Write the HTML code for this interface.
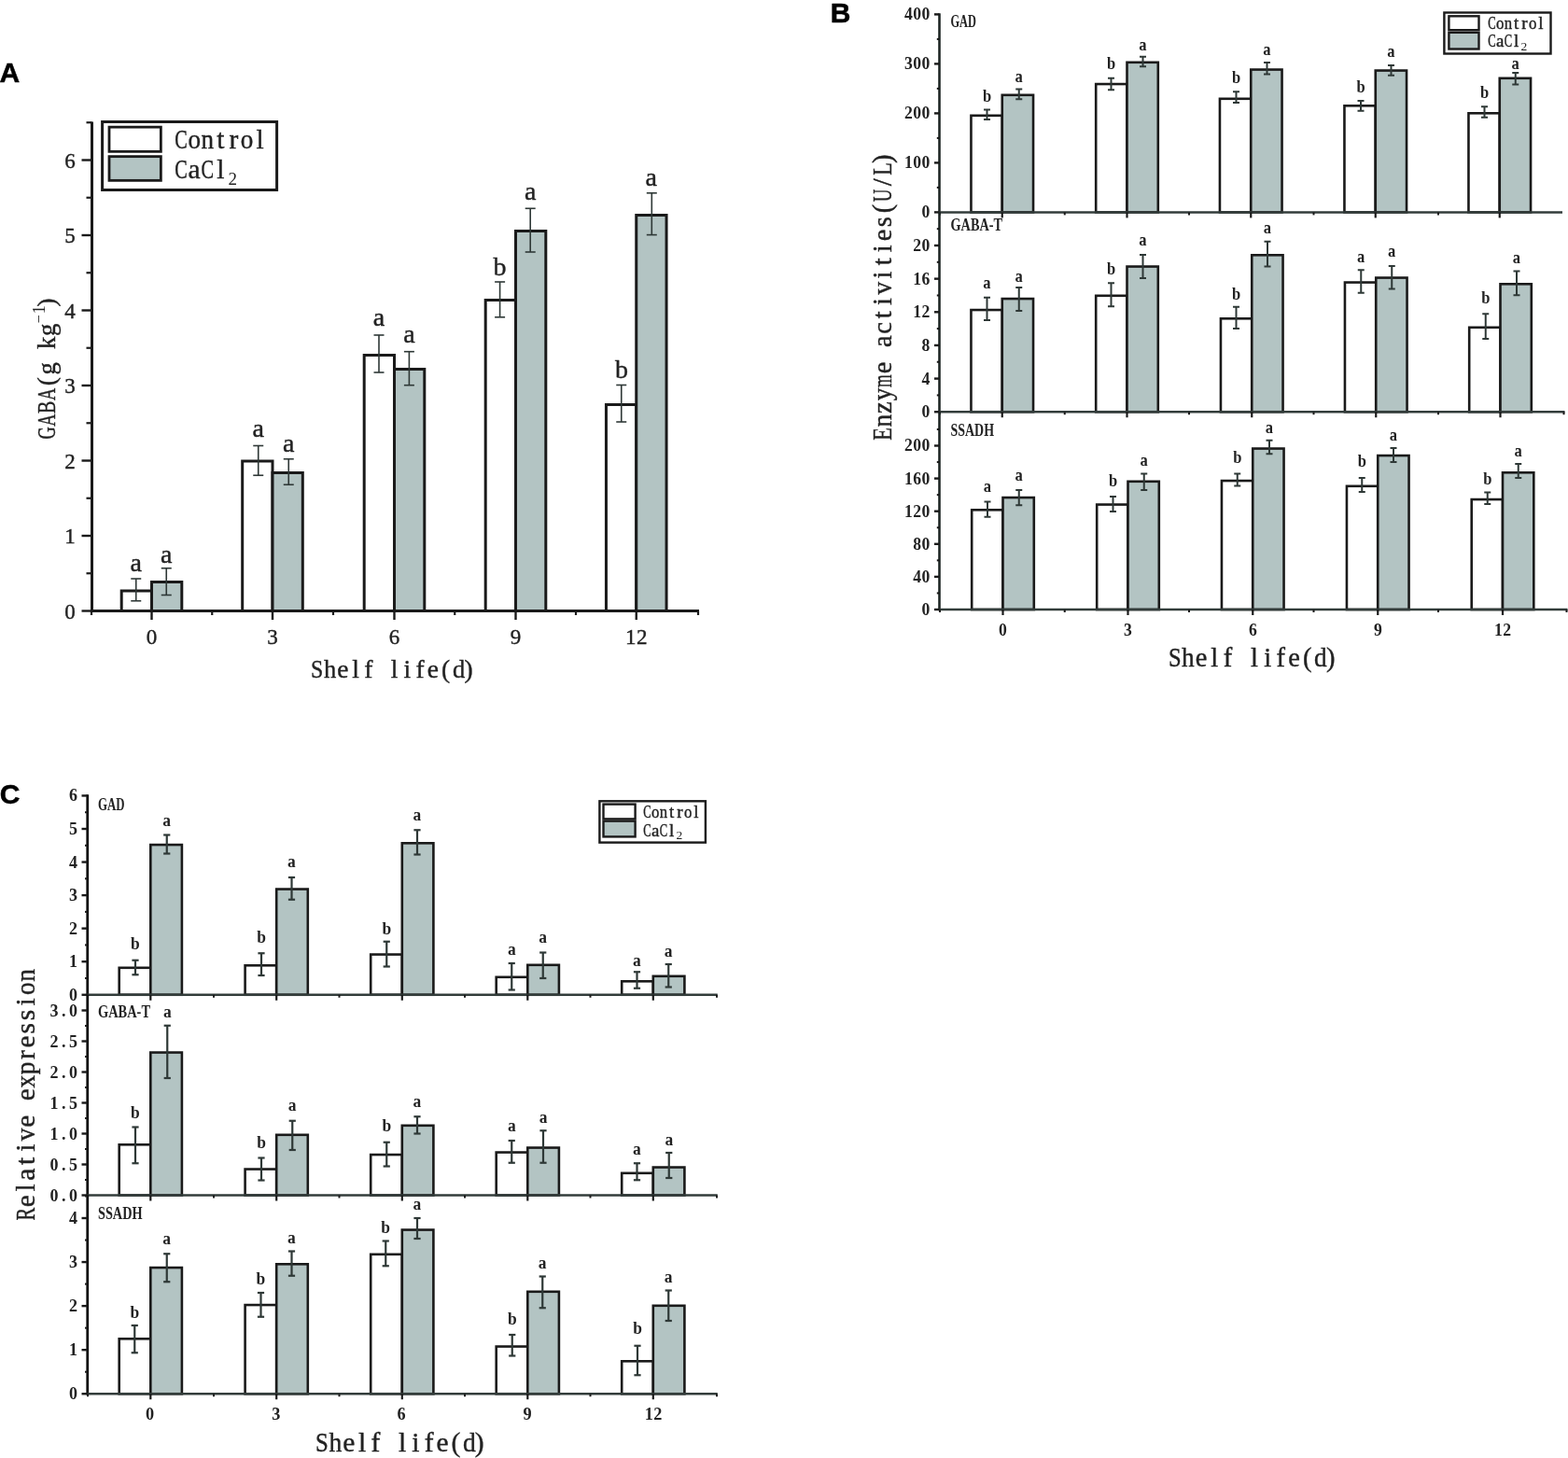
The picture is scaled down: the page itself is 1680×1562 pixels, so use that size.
<!DOCTYPE html>
<html><head><meta charset="utf-8"><title>GABA figure</title>
<style>
html,body{margin:0;padding:0;background:#fff;}
svg{display:block;}
text{font-family:"Liberation Serif","Noto Serif CJK SC",serif;}
text.r{stroke:#222;stroke-width:0.4px;}
</style></head><body>
<svg width="1680" height="1562" viewBox="0 0 1680 1562">
<rect x="0" y="0" width="1680" height="1562" fill="#fff"/>
<rect x="130.2" y="633" width="32.3" height="21.5" fill="#fff" stroke="#1a1a1a" stroke-width="3"/>
<rect x="162.5" y="623.5" width="32.3" height="31" fill="#b3c4c3" stroke="#1a1a1a" stroke-width="3"/>
<rect x="259.7" y="494" width="32.3" height="160.5" fill="#fff" stroke="#1a1a1a" stroke-width="3"/>
<rect x="292" y="506.5" width="32.3" height="148" fill="#b3c4c3" stroke="#1a1a1a" stroke-width="3"/>
<rect x="390.2" y="380.5" width="32.3" height="274" fill="#fff" stroke="#1a1a1a" stroke-width="3"/>
<rect x="422.5" y="395.5" width="32.3" height="259" fill="#b3c4c3" stroke="#1a1a1a" stroke-width="3"/>
<rect x="520.2" y="321.5" width="32.3" height="333" fill="#fff" stroke="#1a1a1a" stroke-width="3"/>
<rect x="552.5" y="247.5" width="32.3" height="407" fill="#b3c4c3" stroke="#1a1a1a" stroke-width="3"/>
<rect x="649.45" y="433.5" width="32.3" height="221" fill="#fff" stroke="#1a1a1a" stroke-width="3"/>
<rect x="681.75" y="230.5" width="32.3" height="424" fill="#b3c4c3" stroke="#1a1a1a" stroke-width="3"/>
<line x1="145.75" y1="620" x2="145.75" y2="643.75" stroke="#2e3836" stroke-width="1.6"/>
<line x1="140.25" y1="620" x2="151.25" y2="620" stroke="#2e3836" stroke-width="1.6"/>
<line x1="140.25" y1="643.75" x2="151.25" y2="643.75" stroke="#2e3836" stroke-width="1.6"/>
<line x1="276.75" y1="477.5" x2="276.75" y2="509.25" stroke="#2e3836" stroke-width="1.6"/>
<line x1="271.25" y1="477.5" x2="282.25" y2="477.5" stroke="#2e3836" stroke-width="1.6"/>
<line x1="271.25" y1="509.25" x2="282.25" y2="509.25" stroke="#2e3836" stroke-width="1.6"/>
<line x1="406" y1="359" x2="406" y2="399" stroke="#2e3836" stroke-width="1.6"/>
<line x1="400.5" y1="359" x2="411.5" y2="359" stroke="#2e3836" stroke-width="1.6"/>
<line x1="400.5" y1="399" x2="411.5" y2="399" stroke="#2e3836" stroke-width="1.6"/>
<line x1="535.6" y1="302" x2="535.6" y2="339.8" stroke="#2e3836" stroke-width="1.6"/>
<line x1="530.1" y1="302" x2="541.1" y2="302" stroke="#2e3836" stroke-width="1.6"/>
<line x1="530.1" y1="339.8" x2="541.1" y2="339.8" stroke="#2e3836" stroke-width="1.6"/>
<line x1="665.75" y1="412.5" x2="665.75" y2="452" stroke="#2e3836" stroke-width="1.6"/>
<line x1="660.25" y1="412.5" x2="671.25" y2="412.5" stroke="#2e3836" stroke-width="1.6"/>
<line x1="660.25" y1="452" x2="671.25" y2="452" stroke="#2e3836" stroke-width="1.6"/>
<line x1="178.25" y1="608.75" x2="178.25" y2="637.5" stroke="#2e3836" stroke-width="1.6"/>
<line x1="172.75" y1="608.75" x2="183.75" y2="608.75" stroke="#2e3836" stroke-width="1.6"/>
<line x1="172.75" y1="637.5" x2="183.75" y2="637.5" stroke="#2e3836" stroke-width="1.6"/>
<line x1="309.25" y1="491.75" x2="309.25" y2="519.25" stroke="#2e3836" stroke-width="1.6"/>
<line x1="303.75" y1="491.75" x2="314.75" y2="491.75" stroke="#2e3836" stroke-width="1.6"/>
<line x1="303.75" y1="519.25" x2="314.75" y2="519.25" stroke="#2e3836" stroke-width="1.6"/>
<line x1="438.4" y1="376.7" x2="438.4" y2="412.7" stroke="#2e3836" stroke-width="1.6"/>
<line x1="432.9" y1="376.7" x2="443.9" y2="376.7" stroke="#2e3836" stroke-width="1.6"/>
<line x1="432.9" y1="412.7" x2="443.9" y2="412.7" stroke="#2e3836" stroke-width="1.6"/>
<line x1="568.2" y1="223.3" x2="568.2" y2="270" stroke="#2e3836" stroke-width="1.6"/>
<line x1="562.7" y1="223.3" x2="573.7" y2="223.3" stroke="#2e3836" stroke-width="1.6"/>
<line x1="562.7" y1="270" x2="573.7" y2="270" stroke="#2e3836" stroke-width="1.6"/>
<line x1="698.3" y1="206.8" x2="698.3" y2="251.6" stroke="#2e3836" stroke-width="1.6"/>
<line x1="692.8" y1="206.8" x2="703.8" y2="206.8" stroke="#2e3836" stroke-width="1.6"/>
<line x1="692.8" y1="251.6" x2="703.8" y2="251.6" stroke="#2e3836" stroke-width="1.6"/>
<text class="r" x="145.75" y="612" text-anchor="middle" style="font-size:28px;" fill="#222">a</text>
<text class="r" x="276.75" y="468" text-anchor="middle" style="font-size:28px;" fill="#222">a</text>
<text class="r" x="406" y="349" text-anchor="middle" style="font-size:28px;" fill="#222">a</text>
<text class="r" x="535.6" y="294.6" text-anchor="middle" style="font-size:28px;" fill="#222">b</text>
<text class="r" x="665.9" y="405" text-anchor="middle" style="font-size:28px;" fill="#222">b</text>
<text class="r" x="178.25" y="602.5" text-anchor="middle" style="font-size:28px;" fill="#222">a</text>
<text class="r" x="309.25" y="483.75" text-anchor="middle" style="font-size:28px;" fill="#222">a</text>
<text class="r" x="438.4" y="367" text-anchor="middle" style="font-size:28px;" fill="#222">a</text>
<text class="r" x="568.2" y="213.8" text-anchor="middle" style="font-size:28px;" fill="#222">a</text>
<text class="r" x="697.8" y="198.8" text-anchor="middle" style="font-size:28px;" fill="#222">a</text>
<line x1="98.5" y1="130.5" x2="98.5" y2="656" stroke="#1a1a1a" stroke-width="3"/>
<line x1="97" y1="654.5" x2="749" y2="654.5" stroke="#1a1a1a" stroke-width="3"/>
<line x1="87.5" y1="654.5" x2="98.5" y2="654.5" stroke="#1a1a1a" stroke-width="2.4"/>
<text class="r" transform="translate(69.24,662.5) scale(0.980,1)" style="font-size:23.5px;" fill="#222">0</text>
<line x1="87.5" y1="574" x2="98.5" y2="574" stroke="#1a1a1a" stroke-width="2.4"/>
<text class="r" transform="translate(69.24,582) scale(0.980,1)" style="font-size:23.5px;" fill="#222">1</text>
<line x1="87.5" y1="493.5" x2="98.5" y2="493.5" stroke="#1a1a1a" stroke-width="2.4"/>
<text class="r" transform="translate(69.24,501.5) scale(0.980,1)" style="font-size:23.5px;" fill="#222">2</text>
<line x1="87.5" y1="413" x2="98.5" y2="413" stroke="#1a1a1a" stroke-width="2.4"/>
<text class="r" transform="translate(69.24,421) scale(0.980,1)" style="font-size:23.5px;" fill="#222">3</text>
<line x1="87.5" y1="332.5" x2="98.5" y2="332.5" stroke="#1a1a1a" stroke-width="2.4"/>
<text class="r" transform="translate(69.24,340.5) scale(0.980,1)" style="font-size:23.5px;" fill="#222">4</text>
<line x1="87.5" y1="252" x2="98.5" y2="252" stroke="#1a1a1a" stroke-width="2.4"/>
<text class="r" transform="translate(69.24,260) scale(0.980,1)" style="font-size:23.5px;" fill="#222">5</text>
<line x1="87.5" y1="171.5" x2="98.5" y2="171.5" stroke="#1a1a1a" stroke-width="2.4"/>
<text class="r" transform="translate(69.24,179.5) scale(0.980,1)" style="font-size:23.5px;" fill="#222">6</text>
<line x1="92.5" y1="614.25" x2="98.5" y2="614.25" stroke="#1a1a1a" stroke-width="2.2"/>
<line x1="92.5" y1="533.75" x2="98.5" y2="533.75" stroke="#1a1a1a" stroke-width="2.2"/>
<line x1="92.5" y1="453.25" x2="98.5" y2="453.25" stroke="#1a1a1a" stroke-width="2.2"/>
<line x1="92.5" y1="372.75" x2="98.5" y2="372.75" stroke="#1a1a1a" stroke-width="2.2"/>
<line x1="92.5" y1="292.25" x2="98.5" y2="292.25" stroke="#1a1a1a" stroke-width="2.2"/>
<line x1="92.5" y1="211.75" x2="98.5" y2="211.75" stroke="#1a1a1a" stroke-width="2.2"/>
<line x1="92.5" y1="131.25" x2="98.5" y2="131.25" stroke="#1a1a1a" stroke-width="2.2"/>
<line x1="162.5" y1="654.5" x2="162.5" y2="664" stroke="#1a1a1a" stroke-width="2.4"/>
<text class="r" transform="translate(156.74,690) scale(0.980,1)" style="font-size:23.5px;" fill="#222">0</text>
<line x1="292" y1="654.5" x2="292" y2="664" stroke="#1a1a1a" stroke-width="2.4"/>
<text class="r" transform="translate(286.24,690) scale(0.980,1)" style="font-size:23.5px;" fill="#222">3</text>
<line x1="422.5" y1="654.5" x2="422.5" y2="664" stroke="#1a1a1a" stroke-width="2.4"/>
<text class="r" transform="translate(416.74,690) scale(0.980,1)" style="font-size:23.5px;" fill="#222">6</text>
<line x1="552.5" y1="654.5" x2="552.5" y2="664" stroke="#1a1a1a" stroke-width="2.4"/>
<text class="r" transform="translate(546.74,690) scale(0.980,1)" style="font-size:23.5px;" fill="#222">9</text>
<line x1="681.75" y1="654.5" x2="681.75" y2="664" stroke="#1a1a1a" stroke-width="2.4"/>
<text class="r" transform="translate(669.99,690) scale(0.980,1)" style="font-size:23.5px;" fill="#222">1</text>
<text class="r" transform="translate(681.99,690) scale(0.980,1)" style="font-size:23.5px;" fill="#222">2</text>
<line x1="98" y1="654.5" x2="98" y2="659" stroke="#1a1a1a" stroke-width="2.2"/>
<line x1="227.25" y1="654.5" x2="227.25" y2="659" stroke="#1a1a1a" stroke-width="2.2"/>
<line x1="357" y1="654.5" x2="357" y2="659" stroke="#1a1a1a" stroke-width="2.2"/>
<line x1="487.25" y1="654.5" x2="487.25" y2="659" stroke="#1a1a1a" stroke-width="2.2"/>
<line x1="617" y1="654.5" x2="617" y2="659" stroke="#1a1a1a" stroke-width="2.2"/>
<line x1="748" y1="654.5" x2="748" y2="659" stroke="#1a1a1a" stroke-width="2.2"/>
<text class="r" transform="translate(333.08,725.7) scale(0.866,1)" style="font-size:27.5px;" fill="#222">S</text>
<text class="r" transform="translate(346.88,725.7) scale(0.963,1)" style="font-size:27.5px;" fill="#222">h</text>
<text class="r" transform="translate(484.88,725.7) scale(0.963,1)" style="font-size:27.5px;" fill="#222">d</text>
<text class="r" x="361.2 377.28 390.32 418.68 432.48 445.52 457.8 473.12 497.42" y="725.7" style="font-size:27.5px;" fill="#222">elflife()</text>
<g transform="translate(59.4,470.8) rotate(-90)">
<text class="r" transform="translate(0.28,0) scale(0.667,1)" style="font-size:27.5px;" fill="#222">G</text>
<text class="r" transform="translate(14.08,0) scale(0.667,1)" style="font-size:27.5px;" fill="#222">A</text>
<text class="r" transform="translate(27.88,0) scale(0.722,1)" style="font-size:27.5px;" fill="#222">B</text>
<text class="r" transform="translate(41.68,0) scale(0.667,1)" style="font-size:27.5px;" fill="#222">A</text>
<text class="r" transform="translate(69.28,0) scale(0.963,1)" style="font-size:27.5px;" fill="#222">g</text>
<text class="r" transform="translate(96.88,0) scale(0.963,1)" style="font-size:27.5px;" fill="#222">k</text>
<text class="r" transform="translate(110.68,0) scale(0.963,1)" style="font-size:27.5px;" fill="#222">g</text>
<text class="r" x="57.52" y="0" style="font-size:27.5px;" fill="#222">(</text>
<text x="124.5" y="-12" textLength="9" lengthAdjust="spacingAndGlyphs" style="font-size:17px" fill="#222">&#8722;</text>
<text x="134.2" y="-11" style="font-size:19px" fill="#222">1</text>
<text class="r" x="142.02" y="0" style="font-size:27.5px;" fill="#222">)</text>
</g>
<rect x="109.6" y="130.5" width="187" height="73" fill="none" stroke="#1a1a1a" stroke-width="3"/>
<rect x="117" y="136.15" width="55.35" height="26.2" fill="#fff" stroke="#1a1a1a" stroke-width="2.8"/>
<rect x="117" y="167.65" width="55.35" height="25.7" fill="#b3c4c3" stroke="#1a1a1a" stroke-width="2.8"/>
<text class="r" transform="translate(187.28,158.75) scale(0.688,1)" style="font-size:29.5px;" fill="#222">C</text>
<text class="r" transform="translate(201.38,158.75) scale(0.918,1)" style="font-size:29.5px;" fill="#222">o</text>
<text class="r" transform="translate(215.48,158.75) scale(0.918,1)" style="font-size:29.5px;" fill="#222">n</text>
<text class="r" transform="translate(257.78,158.75) scale(0.918,1)" style="font-size:29.5px;" fill="#222">o</text>
<text class="r" x="232.25 245.54 274.55" y="158.75" style="font-size:29.5px;" fill="#222">trl</text>
<text class="r" transform="translate(187.28,190.6) scale(0.688,1)" style="font-size:29.5px;" fill="#222">C</text>
<text class="r" transform="translate(215.48,190.6) scale(0.688,1)" style="font-size:29.5px;" fill="#222">C</text>
<text class="r" x="201.6 232.25" y="190.6" style="font-size:29.5px;" fill="#222">al</text>
<text x="244.5" y="197.5" style="font-size:19px" fill="#222">2</text>
<text x="-0.6" y="87.6" style="font-family:'Liberation Sans',sans-serif;font-weight:bold;font-size:30px" fill="#000" stroke="#000" stroke-width="0.5">A</text>
<rect x="1040.45" y="123.8" width="33.3" height="103.6" fill="#fff" stroke="#1a1a1a" stroke-width="2.6"/>
<rect x="1073.75" y="101.8" width="33.3" height="125.6" fill="#b3c4c3" stroke="#1a1a1a" stroke-width="2.6"/>
<rect x="1174.2" y="90.05" width="33.3" height="137.35" fill="#fff" stroke="#1a1a1a" stroke-width="2.6"/>
<rect x="1207.5" y="66.8" width="33.3" height="160.6" fill="#b3c4c3" stroke="#1a1a1a" stroke-width="2.6"/>
<rect x="1306.95" y="105.8" width="33.3" height="121.6" fill="#fff" stroke="#1a1a1a" stroke-width="2.6"/>
<rect x="1340.25" y="74.55" width="33.3" height="152.85" fill="#b3c4c3" stroke="#1a1a1a" stroke-width="2.6"/>
<rect x="1440.45" y="113.3" width="33.3" height="114.1" fill="#fff" stroke="#1a1a1a" stroke-width="2.6"/>
<rect x="1473.75" y="75.55" width="33.3" height="151.85" fill="#b3c4c3" stroke="#1a1a1a" stroke-width="2.6"/>
<rect x="1573.45" y="121.3" width="33.3" height="106.1" fill="#fff" stroke="#1a1a1a" stroke-width="2.6"/>
<rect x="1606.75" y="83.8" width="33.3" height="143.6" fill="#b3c4c3" stroke="#1a1a1a" stroke-width="2.6"/>
<line x1="1057.5" y1="117.5" x2="1057.5" y2="128" stroke="#2e3836" stroke-width="2"/>
<line x1="1054" y1="117.5" x2="1061" y2="117.5" stroke="#2e3836" stroke-width="2"/>
<line x1="1054" y1="128" x2="1061" y2="128" stroke="#2e3836" stroke-width="2"/>
<line x1="1190.5" y1="83.75" x2="1190.5" y2="96.25" stroke="#2e3836" stroke-width="2"/>
<line x1="1187" y1="83.75" x2="1194" y2="83.75" stroke="#2e3836" stroke-width="2"/>
<line x1="1187" y1="96.25" x2="1194" y2="96.25" stroke="#2e3836" stroke-width="2"/>
<line x1="1324.5" y1="98.25" x2="1324.5" y2="110" stroke="#2e3836" stroke-width="2"/>
<line x1="1321" y1="98.25" x2="1328" y2="98.25" stroke="#2e3836" stroke-width="2"/>
<line x1="1321" y1="110" x2="1328" y2="110" stroke="#2e3836" stroke-width="2"/>
<line x1="1458" y1="108" x2="1458" y2="118.75" stroke="#2e3836" stroke-width="2"/>
<line x1="1454.5" y1="108" x2="1461.5" y2="108" stroke="#2e3836" stroke-width="2"/>
<line x1="1454.5" y1="118.75" x2="1461.5" y2="118.75" stroke="#2e3836" stroke-width="2"/>
<line x1="1590.5" y1="114.25" x2="1590.5" y2="125.75" stroke="#2e3836" stroke-width="2"/>
<line x1="1587" y1="114.25" x2="1594" y2="114.25" stroke="#2e3836" stroke-width="2"/>
<line x1="1587" y1="125.75" x2="1594" y2="125.75" stroke="#2e3836" stroke-width="2"/>
<line x1="1091.75" y1="95.5" x2="1091.75" y2="106.25" stroke="#2e3836" stroke-width="2"/>
<line x1="1088.25" y1="95.5" x2="1095.25" y2="95.5" stroke="#2e3836" stroke-width="2"/>
<line x1="1088.25" y1="106.25" x2="1095.25" y2="106.25" stroke="#2e3836" stroke-width="2"/>
<line x1="1224.5" y1="60.75" x2="1224.5" y2="71.25" stroke="#2e3836" stroke-width="2"/>
<line x1="1221" y1="60.75" x2="1228" y2="60.75" stroke="#2e3836" stroke-width="2"/>
<line x1="1221" y1="71.25" x2="1228" y2="71.25" stroke="#2e3836" stroke-width="2"/>
<line x1="1357.5" y1="67" x2="1357.5" y2="79.5" stroke="#2e3836" stroke-width="2"/>
<line x1="1354" y1="67" x2="1361" y2="67" stroke="#2e3836" stroke-width="2"/>
<line x1="1354" y1="79.5" x2="1361" y2="79.5" stroke="#2e3836" stroke-width="2"/>
<line x1="1490.5" y1="70" x2="1490.5" y2="80.75" stroke="#2e3836" stroke-width="2"/>
<line x1="1487" y1="70" x2="1494" y2="70" stroke="#2e3836" stroke-width="2"/>
<line x1="1487" y1="80.75" x2="1494" y2="80.75" stroke="#2e3836" stroke-width="2"/>
<line x1="1623.75" y1="78" x2="1623.75" y2="90.5" stroke="#2e3836" stroke-width="2"/>
<line x1="1620.25" y1="78" x2="1627.25" y2="78" stroke="#2e3836" stroke-width="2"/>
<line x1="1620.25" y1="90.5" x2="1627.25" y2="90.5" stroke="#2e3836" stroke-width="2"/>
<text x="1149.46" y="109.25" text-anchor="middle" style="font-size:18px;font-weight:bold;" fill="#222" transform="scale(0.92,1)">b</text>
<text x="1294.02" y="74.5" text-anchor="middle" style="font-size:18px;font-weight:bold;" fill="#222" transform="scale(0.92,1)">b</text>
<text x="1439.67" y="89.5" text-anchor="middle" style="font-size:18px;font-weight:bold;" fill="#222" transform="scale(0.92,1)">b</text>
<text x="1584.78" y="98.75" text-anchor="middle" style="font-size:18px;font-weight:bold;" fill="#222" transform="scale(0.92,1)">b</text>
<text x="1728.8" y="105" text-anchor="middle" style="font-size:18px;font-weight:bold;" fill="#222" transform="scale(0.92,1)">b</text>
<text x="1186.68" y="88" text-anchor="middle" style="font-size:18px;font-weight:bold;" fill="#222" transform="scale(0.92,1)">a</text>
<text x="1330.98" y="53.75" text-anchor="middle" style="font-size:18px;font-weight:bold;" fill="#222" transform="scale(0.92,1)">a</text>
<text x="1475.54" y="59.25" text-anchor="middle" style="font-size:18px;font-weight:bold;" fill="#222" transform="scale(0.92,1)">a</text>
<text x="1620.11" y="60.75" text-anchor="middle" style="font-size:18px;font-weight:bold;" fill="#222" transform="scale(0.92,1)">a</text>
<text x="1764.95" y="73.75" text-anchor="middle" style="font-size:18px;font-weight:bold;" fill="#222" transform="scale(0.92,1)">a</text>
<line x1="1006.5" y1="14.3" x2="1006.5" y2="228.4" stroke="#1e2624" stroke-width="2.6"/>
<line x1="1005.5" y1="227.4" x2="1674" y2="227.4" stroke="#333d3b" stroke-width="2.5"/>
<line x1="1001" y1="227.4" x2="1006.5" y2="227.4" stroke="#1a1a1a" stroke-width="2.4"/>
<text transform="translate(987.48,233.3) scale(0.930,1)" style="font-size:19px;font-weight:bold;" fill="#222">0</text>
<line x1="1001" y1="174.4" x2="1006.5" y2="174.4" stroke="#1a1a1a" stroke-width="2.4"/>
<text transform="translate(969.08,180.3) scale(0.930,1)" style="font-size:19px;font-weight:bold;" fill="#222">1</text>
<text transform="translate(978.28,180.3) scale(0.930,1)" style="font-size:19px;font-weight:bold;" fill="#222">0</text>
<text transform="translate(987.48,180.3) scale(0.930,1)" style="font-size:19px;font-weight:bold;" fill="#222">0</text>
<line x1="1001" y1="121.4" x2="1006.5" y2="121.4" stroke="#1a1a1a" stroke-width="2.4"/>
<text transform="translate(969.08,127.3) scale(0.930,1)" style="font-size:19px;font-weight:bold;" fill="#222">2</text>
<text transform="translate(978.28,127.3) scale(0.930,1)" style="font-size:19px;font-weight:bold;" fill="#222">0</text>
<text transform="translate(987.48,127.3) scale(0.930,1)" style="font-size:19px;font-weight:bold;" fill="#222">0</text>
<line x1="1001" y1="68.4" x2="1006.5" y2="68.4" stroke="#1a1a1a" stroke-width="2.4"/>
<text transform="translate(969.08,74.3) scale(0.930,1)" style="font-size:19px;font-weight:bold;" fill="#222">3</text>
<text transform="translate(978.28,74.3) scale(0.930,1)" style="font-size:19px;font-weight:bold;" fill="#222">0</text>
<text transform="translate(987.48,74.3) scale(0.930,1)" style="font-size:19px;font-weight:bold;" fill="#222">0</text>
<line x1="1001" y1="15.4" x2="1006.5" y2="15.4" stroke="#1a1a1a" stroke-width="2.4"/>
<text transform="translate(969.08,21.3) scale(0.930,1)" style="font-size:19px;font-weight:bold;" fill="#222">4</text>
<text transform="translate(978.28,21.3) scale(0.930,1)" style="font-size:19px;font-weight:bold;" fill="#222">0</text>
<text transform="translate(987.48,21.3) scale(0.930,1)" style="font-size:19px;font-weight:bold;" fill="#222">0</text>
<line x1="1003.8" y1="200.9" x2="1006.5" y2="200.9" stroke="#1a1a1a" stroke-width="2"/>
<line x1="1003.8" y1="147.9" x2="1006.5" y2="147.9" stroke="#1a1a1a" stroke-width="2"/>
<line x1="1003.8" y1="94.9" x2="1006.5" y2="94.9" stroke="#1a1a1a" stroke-width="2"/>
<line x1="1003.8" y1="41.9" x2="1006.5" y2="41.9" stroke="#1a1a1a" stroke-width="2"/>
<line x1="1073.75" y1="227.4" x2="1073.75" y2="233.4" stroke="#1a1a1a" stroke-width="2.2"/>
<line x1="1207.5" y1="227.4" x2="1207.5" y2="233.4" stroke="#1a1a1a" stroke-width="2.2"/>
<line x1="1340.25" y1="227.4" x2="1340.25" y2="233.4" stroke="#1a1a1a" stroke-width="2.2"/>
<line x1="1473.75" y1="227.4" x2="1473.75" y2="233.4" stroke="#1a1a1a" stroke-width="2.2"/>
<line x1="1606.75" y1="227.4" x2="1606.75" y2="233.4" stroke="#1a1a1a" stroke-width="2.2"/>
<line x1="1007" y1="227.4" x2="1007" y2="230.4" stroke="#1a1a1a" stroke-width="2"/>
<line x1="1140.75" y1="227.4" x2="1140.75" y2="230.4" stroke="#1a1a1a" stroke-width="2"/>
<line x1="1274" y1="227.4" x2="1274" y2="230.4" stroke="#1a1a1a" stroke-width="2"/>
<line x1="1407.5" y1="227.4" x2="1407.5" y2="230.4" stroke="#1a1a1a" stroke-width="2"/>
<line x1="1541" y1="227.4" x2="1541" y2="230.4" stroke="#1a1a1a" stroke-width="2"/>
<text x="1018.5" y="28.7" textLength="27.5" lengthAdjust="spacingAndGlyphs" style="font-size:19.5px;font-weight:bold" fill="#222">GAD</text>
<rect x="1040.45" y="332.05" width="33.3" height="109.2" fill="#fff" stroke="#1a1a1a" stroke-width="2.6"/>
<rect x="1073.75" y="320.05" width="33.3" height="121.2" fill="#b3c4c3" stroke="#1a1a1a" stroke-width="2.6"/>
<rect x="1174.2" y="316.8" width="33.3" height="124.45" fill="#fff" stroke="#1a1a1a" stroke-width="2.6"/>
<rect x="1207.5" y="285.55" width="33.3" height="155.7" fill="#b3c4c3" stroke="#1a1a1a" stroke-width="2.6"/>
<rect x="1307.95" y="341.3" width="33.3" height="99.95" fill="#fff" stroke="#1a1a1a" stroke-width="2.6"/>
<rect x="1341.25" y="273.3" width="33.3" height="167.95" fill="#b3c4c3" stroke="#1a1a1a" stroke-width="2.6"/>
<rect x="1440.95" y="302.55" width="33.3" height="138.7" fill="#fff" stroke="#1a1a1a" stroke-width="2.6"/>
<rect x="1474.25" y="297.55" width="33.3" height="143.7" fill="#b3c4c3" stroke="#1a1a1a" stroke-width="2.6"/>
<rect x="1574.2" y="350.8" width="33.3" height="90.45" fill="#fff" stroke="#1a1a1a" stroke-width="2.6"/>
<rect x="1607.5" y="304.3" width="33.3" height="136.95" fill="#b3c4c3" stroke="#1a1a1a" stroke-width="2.6"/>
<line x1="1057.5" y1="318.75" x2="1057.5" y2="343" stroke="#2e3836" stroke-width="2"/>
<line x1="1054" y1="318.75" x2="1061" y2="318.75" stroke="#2e3836" stroke-width="2"/>
<line x1="1054" y1="343" x2="1061" y2="343" stroke="#2e3836" stroke-width="2"/>
<line x1="1190.5" y1="303.25" x2="1190.5" y2="328.25" stroke="#2e3836" stroke-width="2"/>
<line x1="1187" y1="303.25" x2="1194" y2="303.25" stroke="#2e3836" stroke-width="2"/>
<line x1="1187" y1="328.25" x2="1194" y2="328.25" stroke="#2e3836" stroke-width="2"/>
<line x1="1324.5" y1="328.75" x2="1324.5" y2="352" stroke="#2e3836" stroke-width="2"/>
<line x1="1321" y1="328.75" x2="1328" y2="328.75" stroke="#2e3836" stroke-width="2"/>
<line x1="1321" y1="352" x2="1328" y2="352" stroke="#2e3836" stroke-width="2"/>
<line x1="1458.25" y1="289.25" x2="1458.25" y2="313.75" stroke="#2e3836" stroke-width="2"/>
<line x1="1454.75" y1="289.25" x2="1461.75" y2="289.25" stroke="#2e3836" stroke-width="2"/>
<line x1="1454.75" y1="313.75" x2="1461.75" y2="313.75" stroke="#2e3836" stroke-width="2"/>
<line x1="1591.75" y1="336.25" x2="1591.75" y2="363" stroke="#2e3836" stroke-width="2"/>
<line x1="1588.25" y1="336.25" x2="1595.25" y2="336.25" stroke="#2e3836" stroke-width="2"/>
<line x1="1588.25" y1="363" x2="1595.25" y2="363" stroke="#2e3836" stroke-width="2"/>
<line x1="1091.75" y1="308" x2="1091.75" y2="333" stroke="#2e3836" stroke-width="2"/>
<line x1="1088.25" y1="308" x2="1095.25" y2="308" stroke="#2e3836" stroke-width="2"/>
<line x1="1088.25" y1="333" x2="1095.25" y2="333" stroke="#2e3836" stroke-width="2"/>
<line x1="1224.5" y1="273" x2="1224.5" y2="298" stroke="#2e3836" stroke-width="2"/>
<line x1="1221" y1="273" x2="1228" y2="273" stroke="#2e3836" stroke-width="2"/>
<line x1="1221" y1="298" x2="1228" y2="298" stroke="#2e3836" stroke-width="2"/>
<line x1="1358" y1="258.75" x2="1358" y2="285.5" stroke="#2e3836" stroke-width="2"/>
<line x1="1354.5" y1="258.75" x2="1361.5" y2="258.75" stroke="#2e3836" stroke-width="2"/>
<line x1="1354.5" y1="285.5" x2="1361.5" y2="285.5" stroke="#2e3836" stroke-width="2"/>
<line x1="1491.25" y1="285" x2="1491.25" y2="309.5" stroke="#2e3836" stroke-width="2"/>
<line x1="1487.75" y1="285" x2="1494.75" y2="285" stroke="#2e3836" stroke-width="2"/>
<line x1="1487.75" y1="309.5" x2="1494.75" y2="309.5" stroke="#2e3836" stroke-width="2"/>
<line x1="1625" y1="290.5" x2="1625" y2="316.25" stroke="#2e3836" stroke-width="2"/>
<line x1="1621.5" y1="290.5" x2="1628.5" y2="290.5" stroke="#2e3836" stroke-width="2"/>
<line x1="1621.5" y1="316.25" x2="1628.5" y2="316.25" stroke="#2e3836" stroke-width="2"/>
<text x="1149.46" y="309.25" text-anchor="middle" style="font-size:18px;font-weight:bold;" fill="#222" transform="scale(0.92,1)">a</text>
<text x="1294.02" y="294.25" text-anchor="middle" style="font-size:18px;font-weight:bold;" fill="#222" transform="scale(0.92,1)">b</text>
<text x="1439.67" y="321.25" text-anchor="middle" style="font-size:18px;font-weight:bold;" fill="#222" transform="scale(0.92,1)">b</text>
<text x="1585.05" y="280.75" text-anchor="middle" style="font-size:18px;font-weight:bold;" fill="#222" transform="scale(0.92,1)">a</text>
<text x="1730.16" y="325" text-anchor="middle" style="font-size:18px;font-weight:bold;" fill="#222" transform="scale(0.92,1)">b</text>
<text x="1186.68" y="301.75" text-anchor="middle" style="font-size:18px;font-weight:bold;" fill="#222" transform="scale(0.92,1)">a</text>
<text x="1330.98" y="263" text-anchor="middle" style="font-size:18px;font-weight:bold;" fill="#222" transform="scale(0.92,1)">a</text>
<text x="1476.09" y="250.5" text-anchor="middle" style="font-size:18px;font-weight:bold;" fill="#222" transform="scale(0.92,1)">a</text>
<text x="1620.92" y="275.5" text-anchor="middle" style="font-size:18px;font-weight:bold;" fill="#222" transform="scale(0.92,1)">a</text>
<text x="1766.3" y="282.5" text-anchor="middle" style="font-size:18px;font-weight:bold;" fill="#222" transform="scale(0.92,1)">a</text>
<line x1="1006.5" y1="227" x2="1006.5" y2="442.25" stroke="#1e2624" stroke-width="2.6"/>
<line x1="1005.5" y1="441.25" x2="1676.5" y2="441.25" stroke="#333d3b" stroke-width="2.5"/>
<line x1="1001" y1="441.25" x2="1006.5" y2="441.25" stroke="#1a1a1a" stroke-width="2.4"/>
<text transform="translate(987.48,447.15) scale(0.930,1)" style="font-size:19px;font-weight:bold;" fill="#222">0</text>
<line x1="1001" y1="405.6" x2="1006.5" y2="405.6" stroke="#1a1a1a" stroke-width="2.4"/>
<text transform="translate(987.48,411.5) scale(0.930,1)" style="font-size:19px;font-weight:bold;" fill="#222">4</text>
<line x1="1001" y1="369.95" x2="1006.5" y2="369.95" stroke="#1a1a1a" stroke-width="2.4"/>
<text transform="translate(987.48,375.85) scale(0.930,1)" style="font-size:19px;font-weight:bold;" fill="#222">8</text>
<line x1="1001" y1="334.3" x2="1006.5" y2="334.3" stroke="#1a1a1a" stroke-width="2.4"/>
<text transform="translate(978.28,340.2) scale(0.930,1)" style="font-size:19px;font-weight:bold;" fill="#222">1</text>
<text transform="translate(987.48,340.2) scale(0.930,1)" style="font-size:19px;font-weight:bold;" fill="#222">2</text>
<line x1="1001" y1="298.65" x2="1006.5" y2="298.65" stroke="#1a1a1a" stroke-width="2.4"/>
<text transform="translate(978.28,304.55) scale(0.930,1)" style="font-size:19px;font-weight:bold;" fill="#222">1</text>
<text transform="translate(987.48,304.55) scale(0.930,1)" style="font-size:19px;font-weight:bold;" fill="#222">6</text>
<line x1="1001" y1="263" x2="1006.5" y2="263" stroke="#1a1a1a" stroke-width="2.4"/>
<text transform="translate(978.28,268.9) scale(0.930,1)" style="font-size:19px;font-weight:bold;" fill="#222">2</text>
<text transform="translate(987.48,268.9) scale(0.930,1)" style="font-size:19px;font-weight:bold;" fill="#222">0</text>
<line x1="1003.8" y1="423.43" x2="1006.5" y2="423.43" stroke="#1a1a1a" stroke-width="2"/>
<line x1="1003.8" y1="387.77" x2="1006.5" y2="387.77" stroke="#1a1a1a" stroke-width="2"/>
<line x1="1003.8" y1="352.12" x2="1006.5" y2="352.12" stroke="#1a1a1a" stroke-width="2"/>
<line x1="1003.8" y1="316.48" x2="1006.5" y2="316.48" stroke="#1a1a1a" stroke-width="2"/>
<line x1="1003.8" y1="280.83" x2="1006.5" y2="280.83" stroke="#1a1a1a" stroke-width="2"/>
<line x1="1003.8" y1="245.18" x2="1006.5" y2="245.18" stroke="#1a1a1a" stroke-width="2"/>
<line x1="1073.75" y1="441.25" x2="1073.75" y2="447.25" stroke="#1a1a1a" stroke-width="2.2"/>
<line x1="1207.5" y1="441.25" x2="1207.5" y2="447.25" stroke="#1a1a1a" stroke-width="2.2"/>
<line x1="1341.25" y1="441.25" x2="1341.25" y2="447.25" stroke="#1a1a1a" stroke-width="2.2"/>
<line x1="1474.25" y1="441.25" x2="1474.25" y2="447.25" stroke="#1a1a1a" stroke-width="2.2"/>
<line x1="1607.5" y1="441.25" x2="1607.5" y2="447.25" stroke="#1a1a1a" stroke-width="2.2"/>
<line x1="1007" y1="441.25" x2="1007" y2="444.25" stroke="#1a1a1a" stroke-width="2"/>
<line x1="1140.75" y1="441.25" x2="1140.75" y2="444.25" stroke="#1a1a1a" stroke-width="2"/>
<line x1="1274" y1="441.25" x2="1274" y2="444.25" stroke="#1a1a1a" stroke-width="2"/>
<line x1="1407.5" y1="441.25" x2="1407.5" y2="444.25" stroke="#1a1a1a" stroke-width="2"/>
<line x1="1541" y1="441.25" x2="1541" y2="444.25" stroke="#1a1a1a" stroke-width="2"/>
<line x1="1675.5" y1="441.25" x2="1675.5" y2="444.25" stroke="#1a1a1a" stroke-width="2"/>
<text x="1018.5" y="246.5" textLength="55.5" lengthAdjust="spacingAndGlyphs" style="font-size:19.5px;font-weight:bold" fill="#222">GABA-T</text>
<rect x="1041.2" y="546.3" width="33.3" height="106.7" fill="#fff" stroke="#1a1a1a" stroke-width="2.6"/>
<rect x="1074.5" y="533.05" width="33.3" height="119.95" fill="#b3c4c3" stroke="#1a1a1a" stroke-width="2.6"/>
<rect x="1175.2" y="540.55" width="33.3" height="112.45" fill="#fff" stroke="#1a1a1a" stroke-width="2.6"/>
<rect x="1208.5" y="515.8" width="33.3" height="137.2" fill="#b3c4c3" stroke="#1a1a1a" stroke-width="2.6"/>
<rect x="1308.95" y="515.05" width="33.3" height="137.95" fill="#fff" stroke="#1a1a1a" stroke-width="2.6"/>
<rect x="1342.25" y="480.55" width="33.3" height="172.45" fill="#b3c4c3" stroke="#1a1a1a" stroke-width="2.6"/>
<rect x="1442.95" y="520.8" width="33.3" height="132.2" fill="#fff" stroke="#1a1a1a" stroke-width="2.6"/>
<rect x="1476.25" y="488.05" width="33.3" height="164.95" fill="#b3c4c3" stroke="#1a1a1a" stroke-width="2.6"/>
<rect x="1576.7" y="535.05" width="33.3" height="117.95" fill="#fff" stroke="#1a1a1a" stroke-width="2.6"/>
<rect x="1610" y="506.3" width="33.3" height="146.7" fill="#b3c4c3" stroke="#1a1a1a" stroke-width="2.6"/>
<line x1="1058" y1="537.5" x2="1058" y2="553.75" stroke="#2e3836" stroke-width="2"/>
<line x1="1054.5" y1="537.5" x2="1061.5" y2="537.5" stroke="#2e3836" stroke-width="2"/>
<line x1="1054.5" y1="553.75" x2="1061.5" y2="553.75" stroke="#2e3836" stroke-width="2"/>
<line x1="1192.5" y1="532" x2="1192.5" y2="548" stroke="#2e3836" stroke-width="2"/>
<line x1="1189" y1="532" x2="1196" y2="532" stroke="#2e3836" stroke-width="2"/>
<line x1="1189" y1="548" x2="1196" y2="548" stroke="#2e3836" stroke-width="2"/>
<line x1="1325.75" y1="507.5" x2="1325.75" y2="520.5" stroke="#2e3836" stroke-width="2"/>
<line x1="1322.25" y1="507.5" x2="1329.25" y2="507.5" stroke="#2e3836" stroke-width="2"/>
<line x1="1322.25" y1="520.5" x2="1329.25" y2="520.5" stroke="#2e3836" stroke-width="2"/>
<line x1="1459.25" y1="512" x2="1459.25" y2="527" stroke="#2e3836" stroke-width="2"/>
<line x1="1455.75" y1="512" x2="1462.75" y2="512" stroke="#2e3836" stroke-width="2"/>
<line x1="1455.75" y1="527" x2="1462.75" y2="527" stroke="#2e3836" stroke-width="2"/>
<line x1="1593.75" y1="527.5" x2="1593.75" y2="540" stroke="#2e3836" stroke-width="2"/>
<line x1="1590.25" y1="527.5" x2="1597.25" y2="527.5" stroke="#2e3836" stroke-width="2"/>
<line x1="1590.25" y1="540" x2="1597.25" y2="540" stroke="#2e3836" stroke-width="2"/>
<line x1="1091.75" y1="525" x2="1091.75" y2="541.25" stroke="#2e3836" stroke-width="2"/>
<line x1="1088.25" y1="525" x2="1095.25" y2="525" stroke="#2e3836" stroke-width="2"/>
<line x1="1088.25" y1="541.25" x2="1095.25" y2="541.25" stroke="#2e3836" stroke-width="2"/>
<line x1="1225.75" y1="507.5" x2="1225.75" y2="525" stroke="#2e3836" stroke-width="2"/>
<line x1="1222.25" y1="507.5" x2="1229.25" y2="507.5" stroke="#2e3836" stroke-width="2"/>
<line x1="1222.25" y1="525" x2="1229.25" y2="525" stroke="#2e3836" stroke-width="2"/>
<line x1="1360" y1="471.75" x2="1360" y2="486.25" stroke="#2e3836" stroke-width="2"/>
<line x1="1356.5" y1="471.75" x2="1363.5" y2="471.75" stroke="#2e3836" stroke-width="2"/>
<line x1="1356.5" y1="486.25" x2="1363.5" y2="486.25" stroke="#2e3836" stroke-width="2"/>
<line x1="1493" y1="480" x2="1493" y2="495" stroke="#2e3836" stroke-width="2"/>
<line x1="1489.5" y1="480" x2="1496.5" y2="480" stroke="#2e3836" stroke-width="2"/>
<line x1="1489.5" y1="495" x2="1496.5" y2="495" stroke="#2e3836" stroke-width="2"/>
<line x1="1626.75" y1="497" x2="1626.75" y2="512" stroke="#2e3836" stroke-width="2"/>
<line x1="1623.25" y1="497" x2="1630.25" y2="497" stroke="#2e3836" stroke-width="2"/>
<line x1="1623.25" y1="512" x2="1630.25" y2="512" stroke="#2e3836" stroke-width="2"/>
<text x="1150" y="526.75" text-anchor="middle" style="font-size:18px;font-weight:bold;" fill="#222" transform="scale(0.92,1)">a</text>
<text x="1296.2" y="521.25" text-anchor="middle" style="font-size:18px;font-weight:bold;" fill="#222" transform="scale(0.92,1)">b</text>
<text x="1441.03" y="496.25" text-anchor="middle" style="font-size:18px;font-weight:bold;" fill="#222" transform="scale(0.92,1)">b</text>
<text x="1586.14" y="500.5" text-anchor="middle" style="font-size:18px;font-weight:bold;" fill="#222" transform="scale(0.92,1)">b</text>
<text x="1732.34" y="518.75" text-anchor="middle" style="font-size:18px;font-weight:bold;" fill="#222" transform="scale(0.92,1)">b</text>
<text x="1186.68" y="515" text-anchor="middle" style="font-size:18px;font-weight:bold;" fill="#222" transform="scale(0.92,1)">a</text>
<text x="1332.34" y="499.25" text-anchor="middle" style="font-size:18px;font-weight:bold;" fill="#222" transform="scale(0.92,1)">a</text>
<text x="1478.26" y="463.75" text-anchor="middle" style="font-size:18px;font-weight:bold;" fill="#222" transform="scale(0.92,1)">a</text>
<text x="1622.83" y="472.5" text-anchor="middle" style="font-size:18px;font-weight:bold;" fill="#222" transform="scale(0.92,1)">a</text>
<text x="1768.21" y="489.25" text-anchor="middle" style="font-size:18px;font-weight:bold;" fill="#222" transform="scale(0.92,1)">a</text>
<line x1="1006.5" y1="441.25" x2="1006.5" y2="654" stroke="#1e2624" stroke-width="2.6"/>
<line x1="1005.5" y1="653" x2="1679.5" y2="653" stroke="#333d3b" stroke-width="2.5"/>
<line x1="1001" y1="653" x2="1006.5" y2="653" stroke="#1a1a1a" stroke-width="2.4"/>
<text transform="translate(987.48,658.9) scale(0.930,1)" style="font-size:19px;font-weight:bold;" fill="#222">0</text>
<line x1="1001" y1="617.9" x2="1006.5" y2="617.9" stroke="#1a1a1a" stroke-width="2.4"/>
<text transform="translate(978.28,623.8) scale(0.930,1)" style="font-size:19px;font-weight:bold;" fill="#222">4</text>
<text transform="translate(987.48,623.8) scale(0.930,1)" style="font-size:19px;font-weight:bold;" fill="#222">0</text>
<line x1="1001" y1="582.8" x2="1006.5" y2="582.8" stroke="#1a1a1a" stroke-width="2.4"/>
<text transform="translate(978.28,588.7) scale(0.930,1)" style="font-size:19px;font-weight:bold;" fill="#222">8</text>
<text transform="translate(987.48,588.7) scale(0.930,1)" style="font-size:19px;font-weight:bold;" fill="#222">0</text>
<line x1="1001" y1="547.7" x2="1006.5" y2="547.7" stroke="#1a1a1a" stroke-width="2.4"/>
<text transform="translate(969.08,553.6) scale(0.930,1)" style="font-size:19px;font-weight:bold;" fill="#222">1</text>
<text transform="translate(978.28,553.6) scale(0.930,1)" style="font-size:19px;font-weight:bold;" fill="#222">2</text>
<text transform="translate(987.48,553.6) scale(0.930,1)" style="font-size:19px;font-weight:bold;" fill="#222">0</text>
<line x1="1001" y1="512.6" x2="1006.5" y2="512.6" stroke="#1a1a1a" stroke-width="2.4"/>
<text transform="translate(969.08,518.5) scale(0.930,1)" style="font-size:19px;font-weight:bold;" fill="#222">1</text>
<text transform="translate(978.28,518.5) scale(0.930,1)" style="font-size:19px;font-weight:bold;" fill="#222">6</text>
<text transform="translate(987.48,518.5) scale(0.930,1)" style="font-size:19px;font-weight:bold;" fill="#222">0</text>
<line x1="1001" y1="477.5" x2="1006.5" y2="477.5" stroke="#1a1a1a" stroke-width="2.4"/>
<text transform="translate(969.08,483.4) scale(0.930,1)" style="font-size:19px;font-weight:bold;" fill="#222">2</text>
<text transform="translate(978.28,483.4) scale(0.930,1)" style="font-size:19px;font-weight:bold;" fill="#222">0</text>
<text transform="translate(987.48,483.4) scale(0.930,1)" style="font-size:19px;font-weight:bold;" fill="#222">0</text>
<line x1="1003.8" y1="635.45" x2="1006.5" y2="635.45" stroke="#1a1a1a" stroke-width="2"/>
<line x1="1003.8" y1="600.35" x2="1006.5" y2="600.35" stroke="#1a1a1a" stroke-width="2"/>
<line x1="1003.8" y1="565.25" x2="1006.5" y2="565.25" stroke="#1a1a1a" stroke-width="2"/>
<line x1="1003.8" y1="530.15" x2="1006.5" y2="530.15" stroke="#1a1a1a" stroke-width="2"/>
<line x1="1003.8" y1="495.05" x2="1006.5" y2="495.05" stroke="#1a1a1a" stroke-width="2"/>
<line x1="1003.8" y1="459.95" x2="1006.5" y2="459.95" stroke="#1a1a1a" stroke-width="2"/>
<line x1="1074.5" y1="653" x2="1074.5" y2="659" stroke="#1a1a1a" stroke-width="2.2"/>
<line x1="1208.5" y1="653" x2="1208.5" y2="659" stroke="#1a1a1a" stroke-width="2.2"/>
<line x1="1342.25" y1="653" x2="1342.25" y2="659" stroke="#1a1a1a" stroke-width="2.2"/>
<line x1="1476.25" y1="653" x2="1476.25" y2="659" stroke="#1a1a1a" stroke-width="2.2"/>
<line x1="1610" y1="653" x2="1610" y2="659" stroke="#1a1a1a" stroke-width="2.2"/>
<line x1="1007" y1="653" x2="1007" y2="656" stroke="#1a1a1a" stroke-width="2"/>
<line x1="1140.75" y1="653" x2="1140.75" y2="656" stroke="#1a1a1a" stroke-width="2"/>
<line x1="1274" y1="653" x2="1274" y2="656" stroke="#1a1a1a" stroke-width="2"/>
<line x1="1407.5" y1="653" x2="1407.5" y2="656" stroke="#1a1a1a" stroke-width="2"/>
<line x1="1541" y1="653" x2="1541" y2="656" stroke="#1a1a1a" stroke-width="2"/>
<line x1="1678.5" y1="653" x2="1678.5" y2="656" stroke="#1a1a1a" stroke-width="2"/>
<text x="1018.5" y="467" textLength="46.5" lengthAdjust="spacingAndGlyphs" style="font-size:19.5px;font-weight:bold" fill="#222">SSADH</text>
<text transform="translate(1070.08,680.5) scale(0.930,1)" style="font-size:19px;font-weight:bold;" fill="#222">0</text>
<text transform="translate(1204.08,680.5) scale(0.930,1)" style="font-size:19px;font-weight:bold;" fill="#222">3</text>
<text transform="translate(1338.08,680.5) scale(0.930,1)" style="font-size:19px;font-weight:bold;" fill="#222">6</text>
<text transform="translate(1472.08,680.5) scale(0.930,1)" style="font-size:19px;font-weight:bold;" fill="#222">9</text>
<text transform="translate(1600.98,680.5) scale(0.930,1)" style="font-size:19px;font-weight:bold;" fill="#222">1</text>
<text transform="translate(1610.18,680.5) scale(0.930,1)" style="font-size:19px;font-weight:bold;" fill="#222">2</text>
<text class="r" transform="translate(1251.88,713.75) scale(0.860,1)" style="font-size:28.5px;" fill="#222">S</text>
<text class="r" transform="translate(1266.08,713.75) scale(0.957,1)" style="font-size:28.5px;" fill="#222">h</text>
<text class="r" transform="translate(1408.08,713.75) scale(0.957,1)" style="font-size:28.5px;" fill="#222">d</text>
<text class="r" x="1280.78 1297.34 1310.75 1339.94 1354.14 1367.55 1380.18 1395.95 1420.93" y="713.75" style="font-size:28.5px;" fill="#222">elflife()</text>
<g transform="translate(955.3,472.1) rotate(-90)">
<text class="r" transform="translate(0.28,0) scale(0.783,1)" style="font-size:28.5px;" fill="#222">E</text>
<text class="r" transform="translate(14.48,0) scale(0.957,1)" style="font-size:28.5px;" fill="#222">n</text>
<text class="r" transform="translate(42.88,0) scale(0.957,1)" style="font-size:28.5px;" fill="#222">y</text>
<text class="r" transform="translate(57.08,0) scale(0.615,1)" style="font-size:28.5px;" fill="#222">m</text>
<text class="r" transform="translate(156.48,0) scale(0.957,1)" style="font-size:28.5px;" fill="#222">v</text>
<text class="r" transform="translate(255.88,0) scale(0.662,1)" style="font-size:28.5px;" fill="#222">U</text>
<text class="r" transform="translate(284.28,0) scale(0.783,1)" style="font-size:28.5px;" fill="#222">L</text>
<text class="r" x="29.18 71.78 100.18 114.38 130.94 145.14 173.54 187.74 201.94 213.78 228.75 243.75 272.94 297.13" y="0" style="font-size:28.5px;" fill="#222">zeactiities(/)</text>
</g>
<rect x="1547.4" y="13.5" width="114.1" height="44" fill="none" stroke="#1a1a1a" stroke-width="2.4"/>
<rect x="1552.4" y="17.3" width="32.1" height="14.9" fill="#fff" stroke="#1a1a1a" stroke-width="2.4"/>
<rect x="1552.4" y="34.8" width="32.1" height="17.7" fill="#b3c4c3" stroke="#1a1a1a" stroke-width="2.4"/>
<text class="r" transform="translate(1594.17,30.5) scale(0.663,1)" style="font-size:19px;" fill="#222">C</text>
<text class="r" transform="translate(1602.92,30.5) scale(0.884,1)" style="font-size:19px;" fill="#222">o</text>
<text class="r" transform="translate(1611.67,30.5) scale(0.884,1)" style="font-size:19px;" fill="#222">n</text>
<text class="r" transform="translate(1637.92,30.5) scale(0.884,1)" style="font-size:19px;" fill="#222">o</text>
<text class="r" x="1621.99 1630.21 1648.24" y="30.5" style="font-size:19px;" fill="#222">trl</text>
<text class="r" transform="translate(1594.17,50) scale(0.663,1)" style="font-size:19px;" fill="#222">C</text>
<text class="r" transform="translate(1602.92,50) scale(0.996,1)" style="font-size:19px;" fill="#222">a</text>
<text class="r" transform="translate(1611.67,50) scale(0.663,1)" style="font-size:19px;" fill="#222">C</text>
<text class="r" x="1621.99" y="50" style="font-size:19px;" fill="#222">l</text>
<text x="1629.6" y="54.4" style="font-size:13.5px" fill="#222">2</text>
<text x="889.8" y="23.8" style="font-family:'Liberation Sans',sans-serif;font-weight:bold;font-size:30px" fill="#000" stroke="#000" stroke-width="0.5">B</text>
<rect x="127.7" y="1036.8" width="33.6" height="28.95" fill="#fff" stroke="#1a1a1a" stroke-width="2.6"/>
<rect x="161.3" y="905.05" width="33.6" height="160.7" fill="#b3c4c3" stroke="#1a1a1a" stroke-width="2.6"/>
<rect x="262.6" y="1034.3" width="33.6" height="31.45" fill="#fff" stroke="#1a1a1a" stroke-width="2.6"/>
<rect x="296.2" y="952.55" width="33.6" height="113.2" fill="#b3c4c3" stroke="#1a1a1a" stroke-width="2.6"/>
<rect x="397.2" y="1022.55" width="33.6" height="43.2" fill="#fff" stroke="#1a1a1a" stroke-width="2.6"/>
<rect x="430.8" y="903.3" width="33.6" height="162.45" fill="#b3c4c3" stroke="#1a1a1a" stroke-width="2.6"/>
<rect x="531.7" y="1046.8" width="33.6" height="18.95" fill="#fff" stroke="#1a1a1a" stroke-width="2.6"/>
<rect x="565.3" y="1033.8" width="33.6" height="31.95" fill="#b3c4c3" stroke="#1a1a1a" stroke-width="2.6"/>
<rect x="666.2" y="1051.3" width="33.6" height="14.45" fill="#fff" stroke="#1a1a1a" stroke-width="2.6"/>
<rect x="699.8" y="1045.8" width="33.6" height="19.95" fill="#b3c4c3" stroke="#1a1a1a" stroke-width="2.6"/>
<line x1="145" y1="1028.75" x2="145" y2="1044.25" stroke="#2e3836" stroke-width="2.2"/>
<line x1="141.4" y1="1028.75" x2="148.6" y2="1028.75" stroke="#2e3836" stroke-width="2.2"/>
<line x1="141.4" y1="1044.25" x2="148.6" y2="1044.25" stroke="#2e3836" stroke-width="2.2"/>
<line x1="280" y1="1021.25" x2="280" y2="1045" stroke="#2e3836" stroke-width="2.2"/>
<line x1="276.4" y1="1021.25" x2="283.6" y2="1021.25" stroke="#2e3836" stroke-width="2.2"/>
<line x1="276.4" y1="1045" x2="283.6" y2="1045" stroke="#2e3836" stroke-width="2.2"/>
<line x1="414.25" y1="1008.75" x2="414.25" y2="1035.5" stroke="#2e3836" stroke-width="2.2"/>
<line x1="410.65" y1="1008.75" x2="417.85" y2="1008.75" stroke="#2e3836" stroke-width="2.2"/>
<line x1="410.65" y1="1035.5" x2="417.85" y2="1035.5" stroke="#2e3836" stroke-width="2.2"/>
<line x1="548.25" y1="1032" x2="548.25" y2="1060.5" stroke="#2e3836" stroke-width="2.2"/>
<line x1="544.65" y1="1032" x2="551.85" y2="1032" stroke="#2e3836" stroke-width="2.2"/>
<line x1="544.65" y1="1060.5" x2="551.85" y2="1060.5" stroke="#2e3836" stroke-width="2.2"/>
<line x1="682.5" y1="1041.25" x2="682.5" y2="1058.75" stroke="#2e3836" stroke-width="2.2"/>
<line x1="678.9" y1="1041.25" x2="686.1" y2="1041.25" stroke="#2e3836" stroke-width="2.2"/>
<line x1="678.9" y1="1058.75" x2="686.1" y2="1058.75" stroke="#2e3836" stroke-width="2.2"/>
<line x1="178.75" y1="894.5" x2="178.75" y2="914.5" stroke="#2e3836" stroke-width="2.2"/>
<line x1="175.15" y1="894.5" x2="182.35" y2="894.5" stroke="#2e3836" stroke-width="2.2"/>
<line x1="175.15" y1="914.5" x2="182.35" y2="914.5" stroke="#2e3836" stroke-width="2.2"/>
<line x1="312.5" y1="940" x2="312.5" y2="963.75" stroke="#2e3836" stroke-width="2.2"/>
<line x1="308.9" y1="940" x2="316.1" y2="940" stroke="#2e3836" stroke-width="2.2"/>
<line x1="308.9" y1="963.75" x2="316.1" y2="963.75" stroke="#2e3836" stroke-width="2.2"/>
<line x1="447" y1="889.25" x2="447" y2="915.5" stroke="#2e3836" stroke-width="2.2"/>
<line x1="443.4" y1="889.25" x2="450.6" y2="889.25" stroke="#2e3836" stroke-width="2.2"/>
<line x1="443.4" y1="915.5" x2="450.6" y2="915.5" stroke="#2e3836" stroke-width="2.2"/>
<line x1="581.75" y1="1020.5" x2="581.75" y2="1048" stroke="#2e3836" stroke-width="2.2"/>
<line x1="578.15" y1="1020.5" x2="585.35" y2="1020.5" stroke="#2e3836" stroke-width="2.2"/>
<line x1="578.15" y1="1048" x2="585.35" y2="1048" stroke="#2e3836" stroke-width="2.2"/>
<line x1="716.25" y1="1033" x2="716.25" y2="1057.5" stroke="#2e3836" stroke-width="2.2"/>
<line x1="712.65" y1="1033" x2="719.85" y2="1033" stroke="#2e3836" stroke-width="2.2"/>
<line x1="712.65" y1="1057.5" x2="719.85" y2="1057.5" stroke="#2e3836" stroke-width="2.2"/>
<text x="157.61" y="1017" text-anchor="middle" style="font-size:19px;font-weight:bold;" fill="#222" transform="scale(0.92,1)">b</text>
<text x="304.35" y="1010.5" text-anchor="middle" style="font-size:19px;font-weight:bold;" fill="#222" transform="scale(0.92,1)">b</text>
<text x="450.27" y="1000.75" text-anchor="middle" style="font-size:19px;font-weight:bold;" fill="#222" transform="scale(0.92,1)">b</text>
<text x="595.92" y="1023" text-anchor="middle" style="font-size:19px;font-weight:bold;" fill="#222" transform="scale(0.92,1)">a</text>
<text x="741.85" y="1035.5" text-anchor="middle" style="font-size:19px;font-weight:bold;" fill="#222" transform="scale(0.92,1)">a</text>
<text x="194.29" y="885" text-anchor="middle" style="font-size:19px;font-weight:bold;" fill="#222" transform="scale(0.92,1)">a</text>
<text x="339.67" y="928.75" text-anchor="middle" style="font-size:19px;font-weight:bold;" fill="#222" transform="scale(0.92,1)">a</text>
<text x="485.87" y="879.25" text-anchor="middle" style="font-size:19px;font-weight:bold;" fill="#222" transform="scale(0.92,1)">a</text>
<text x="632.34" y="1010.5" text-anchor="middle" style="font-size:19px;font-weight:bold;" fill="#222" transform="scale(0.92,1)">a</text>
<text x="778.53" y="1025" text-anchor="middle" style="font-size:19px;font-weight:bold;" fill="#222" transform="scale(0.92,1)">a</text>
<line x1="93.75" y1="851.25" x2="93.75" y2="1066.75" stroke="#111" stroke-width="2.8"/>
<line x1="92.75" y1="1065.75" x2="768.75" y2="1065.75" stroke="#333d3b" stroke-width="2.5"/>
<line x1="87.5" y1="1065.75" x2="93.75" y2="1065.75" stroke="#1a1a1a" stroke-width="2.4"/>
<text x="74" y="1071.75" style="font-size:18px;font-weight:bold;" fill="#222">0</text>
<line x1="87.5" y1="1030.2" x2="93.75" y2="1030.2" stroke="#1a1a1a" stroke-width="2.4"/>
<text x="74" y="1036.2" style="font-size:18px;font-weight:bold;" fill="#222">1</text>
<line x1="87.5" y1="994.65" x2="93.75" y2="994.65" stroke="#1a1a1a" stroke-width="2.4"/>
<text x="74" y="1000.65" style="font-size:18px;font-weight:bold;" fill="#222">2</text>
<line x1="87.5" y1="959.1" x2="93.75" y2="959.1" stroke="#1a1a1a" stroke-width="2.4"/>
<text x="74" y="965.1" style="font-size:18px;font-weight:bold;" fill="#222">3</text>
<line x1="87.5" y1="923.55" x2="93.75" y2="923.55" stroke="#1a1a1a" stroke-width="2.4"/>
<text x="74" y="929.55" style="font-size:18px;font-weight:bold;" fill="#222">4</text>
<line x1="87.5" y1="888" x2="93.75" y2="888" stroke="#1a1a1a" stroke-width="2.4"/>
<text x="74" y="894" style="font-size:18px;font-weight:bold;" fill="#222">5</text>
<line x1="87.5" y1="852.45" x2="93.75" y2="852.45" stroke="#1a1a1a" stroke-width="2.4"/>
<text x="74" y="858.45" style="font-size:18px;font-weight:bold;" fill="#222">6</text>
<line x1="91" y1="1047.97" x2="93.75" y2="1047.97" stroke="#1a1a1a" stroke-width="2"/>
<line x1="91" y1="1012.42" x2="93.75" y2="1012.42" stroke="#1a1a1a" stroke-width="2"/>
<line x1="91" y1="976.88" x2="93.75" y2="976.88" stroke="#1a1a1a" stroke-width="2"/>
<line x1="91" y1="941.33" x2="93.75" y2="941.33" stroke="#1a1a1a" stroke-width="2"/>
<line x1="91" y1="905.77" x2="93.75" y2="905.77" stroke="#1a1a1a" stroke-width="2"/>
<line x1="91" y1="870.23" x2="93.75" y2="870.23" stroke="#1a1a1a" stroke-width="2"/>
<line x1="161.3" y1="1065.75" x2="161.3" y2="1071.75" stroke="#1a1a1a" stroke-width="2.2"/>
<line x1="296.2" y1="1065.75" x2="296.2" y2="1071.75" stroke="#1a1a1a" stroke-width="2.2"/>
<line x1="430.8" y1="1065.75" x2="430.8" y2="1071.75" stroke="#1a1a1a" stroke-width="2.2"/>
<line x1="565.3" y1="1065.75" x2="565.3" y2="1071.75" stroke="#1a1a1a" stroke-width="2.2"/>
<line x1="699.8" y1="1065.75" x2="699.8" y2="1071.75" stroke="#1a1a1a" stroke-width="2.2"/>
<line x1="94" y1="1065.75" x2="94" y2="1068.75" stroke="#1a1a1a" stroke-width="2"/>
<line x1="229" y1="1065.75" x2="229" y2="1068.75" stroke="#1a1a1a" stroke-width="2"/>
<line x1="363.5" y1="1065.75" x2="363.5" y2="1068.75" stroke="#1a1a1a" stroke-width="2"/>
<line x1="498" y1="1065.75" x2="498" y2="1068.75" stroke="#1a1a1a" stroke-width="2"/>
<line x1="632.5" y1="1065.75" x2="632.5" y2="1068.75" stroke="#1a1a1a" stroke-width="2"/>
<line x1="768" y1="1065.75" x2="768" y2="1068.75" stroke="#1a1a1a" stroke-width="2"/>
<text x="105" y="868" textLength="28.5" lengthAdjust="spacingAndGlyphs" style="font-size:19.5px;font-weight:bold" fill="#222">GAD</text>
<rect x="127.7" y="1226.3" width="33.6" height="54.2" fill="#fff" stroke="#1a1a1a" stroke-width="2.6"/>
<rect x="161.3" y="1127.55" width="33.6" height="152.95" fill="#b3c4c3" stroke="#1a1a1a" stroke-width="2.6"/>
<rect x="262.6" y="1252.55" width="33.6" height="27.95" fill="#fff" stroke="#1a1a1a" stroke-width="2.6"/>
<rect x="296.2" y="1215.8" width="33.6" height="64.7" fill="#b3c4c3" stroke="#1a1a1a" stroke-width="2.6"/>
<rect x="397.2" y="1237.05" width="33.6" height="43.45" fill="#fff" stroke="#1a1a1a" stroke-width="2.6"/>
<rect x="430.8" y="1205.8" width="33.6" height="74.7" fill="#b3c4c3" stroke="#1a1a1a" stroke-width="2.6"/>
<rect x="531.7" y="1234.55" width="33.6" height="45.95" fill="#fff" stroke="#1a1a1a" stroke-width="2.6"/>
<rect x="565.3" y="1229.55" width="33.6" height="50.95" fill="#b3c4c3" stroke="#1a1a1a" stroke-width="2.6"/>
<rect x="666.2" y="1256.8" width="33.6" height="23.7" fill="#fff" stroke="#1a1a1a" stroke-width="2.6"/>
<rect x="699.8" y="1250.55" width="33.6" height="29.95" fill="#b3c4c3" stroke="#1a1a1a" stroke-width="2.6"/>
<line x1="145" y1="1207.5" x2="145" y2="1246.25" stroke="#2e3836" stroke-width="2.2"/>
<line x1="141.4" y1="1207.5" x2="148.6" y2="1207.5" stroke="#2e3836" stroke-width="2.2"/>
<line x1="141.4" y1="1246.25" x2="148.6" y2="1246.25" stroke="#2e3836" stroke-width="2.2"/>
<line x1="280" y1="1240.5" x2="280" y2="1264.5" stroke="#2e3836" stroke-width="2.2"/>
<line x1="276.4" y1="1240.5" x2="283.6" y2="1240.5" stroke="#2e3836" stroke-width="2.2"/>
<line x1="276.4" y1="1264.5" x2="283.6" y2="1264.5" stroke="#2e3836" stroke-width="2.2"/>
<line x1="414.25" y1="1223.75" x2="414.25" y2="1249.5" stroke="#2e3836" stroke-width="2.2"/>
<line x1="410.65" y1="1223.75" x2="417.85" y2="1223.75" stroke="#2e3836" stroke-width="2.2"/>
<line x1="410.65" y1="1249.5" x2="417.85" y2="1249.5" stroke="#2e3836" stroke-width="2.2"/>
<line x1="548.25" y1="1222" x2="548.25" y2="1245.75" stroke="#2e3836" stroke-width="2.2"/>
<line x1="544.65" y1="1222" x2="551.85" y2="1222" stroke="#2e3836" stroke-width="2.2"/>
<line x1="544.65" y1="1245.75" x2="551.85" y2="1245.75" stroke="#2e3836" stroke-width="2.2"/>
<line x1="682.5" y1="1246.25" x2="682.5" y2="1264.25" stroke="#2e3836" stroke-width="2.2"/>
<line x1="678.9" y1="1246.25" x2="686.1" y2="1246.25" stroke="#2e3836" stroke-width="2.2"/>
<line x1="678.9" y1="1264.25" x2="686.1" y2="1264.25" stroke="#2e3836" stroke-width="2.2"/>
<line x1="179.25" y1="1098.75" x2="179.25" y2="1155" stroke="#2e3836" stroke-width="2.2"/>
<line x1="175.65" y1="1098.75" x2="182.85" y2="1098.75" stroke="#2e3836" stroke-width="2.2"/>
<line x1="175.65" y1="1155" x2="182.85" y2="1155" stroke="#2e3836" stroke-width="2.2"/>
<line x1="313.25" y1="1200.75" x2="313.25" y2="1232" stroke="#2e3836" stroke-width="2.2"/>
<line x1="309.65" y1="1200.75" x2="316.85" y2="1200.75" stroke="#2e3836" stroke-width="2.2"/>
<line x1="309.65" y1="1232" x2="316.85" y2="1232" stroke="#2e3836" stroke-width="2.2"/>
<line x1="447" y1="1196.25" x2="447" y2="1214.5" stroke="#2e3836" stroke-width="2.2"/>
<line x1="443.4" y1="1196.25" x2="450.6" y2="1196.25" stroke="#2e3836" stroke-width="2.2"/>
<line x1="443.4" y1="1214.5" x2="450.6" y2="1214.5" stroke="#2e3836" stroke-width="2.2"/>
<line x1="582" y1="1211.25" x2="582" y2="1245.75" stroke="#2e3836" stroke-width="2.2"/>
<line x1="578.4" y1="1211.25" x2="585.6" y2="1211.25" stroke="#2e3836" stroke-width="2.2"/>
<line x1="578.4" y1="1245.75" x2="585.6" y2="1245.75" stroke="#2e3836" stroke-width="2.2"/>
<line x1="716.75" y1="1235" x2="716.75" y2="1262" stroke="#2e3836" stroke-width="2.2"/>
<line x1="713.15" y1="1235" x2="720.35" y2="1235" stroke="#2e3836" stroke-width="2.2"/>
<line x1="713.15" y1="1262" x2="720.35" y2="1262" stroke="#2e3836" stroke-width="2.2"/>
<text x="157.61" y="1198" text-anchor="middle" style="font-size:19px;font-weight:bold;" fill="#222" transform="scale(0.92,1)">b</text>
<text x="304.35" y="1230.5" text-anchor="middle" style="font-size:19px;font-weight:bold;" fill="#222" transform="scale(0.92,1)">b</text>
<text x="450.27" y="1212.5" text-anchor="middle" style="font-size:19px;font-weight:bold;" fill="#222" transform="scale(0.92,1)">b</text>
<text x="595.92" y="1211.75" text-anchor="middle" style="font-size:19px;font-weight:bold;" fill="#222" transform="scale(0.92,1)">a</text>
<text x="741.85" y="1236.75" text-anchor="middle" style="font-size:19px;font-weight:bold;" fill="#222" transform="scale(0.92,1)">a</text>
<text x="194.84" y="1090" text-anchor="middle" style="font-size:19px;font-weight:bold;" fill="#222" transform="scale(0.92,1)">a</text>
<text x="340.49" y="1190.5" text-anchor="middle" style="font-size:19px;font-weight:bold;" fill="#222" transform="scale(0.92,1)">a</text>
<text x="485.87" y="1186.25" text-anchor="middle" style="font-size:19px;font-weight:bold;" fill="#222" transform="scale(0.92,1)">a</text>
<text x="632.61" y="1203.25" text-anchor="middle" style="font-size:19px;font-weight:bold;" fill="#222" transform="scale(0.92,1)">a</text>
<text x="779.08" y="1226.75" text-anchor="middle" style="font-size:19px;font-weight:bold;" fill="#222" transform="scale(0.92,1)">a</text>
<line x1="93.75" y1="1065.75" x2="93.75" y2="1281.5" stroke="#111" stroke-width="2.8"/>
<line x1="92.75" y1="1280.5" x2="768.75" y2="1280.5" stroke="#333d3b" stroke-width="2.5"/>
<line x1="87.5" y1="1280.5" x2="93.75" y2="1280.5" stroke="#1a1a1a" stroke-width="2.4"/>
<text x="53.5 65.95 73.9" y="1286.5" style="font-size:18px;font-weight:bold;" fill="#222">0.0</text>
<line x1="87.5" y1="1247.5" x2="93.75" y2="1247.5" stroke="#1a1a1a" stroke-width="2.4"/>
<text x="53.5 65.95 73.9" y="1253.5" style="font-size:18px;font-weight:bold;" fill="#222">0.5</text>
<line x1="87.5" y1="1214.5" x2="93.75" y2="1214.5" stroke="#1a1a1a" stroke-width="2.4"/>
<text x="53.5 65.95 73.9" y="1220.5" style="font-size:18px;font-weight:bold;" fill="#222">1.0</text>
<line x1="87.5" y1="1181.5" x2="93.75" y2="1181.5" stroke="#1a1a1a" stroke-width="2.4"/>
<text x="53.5 65.95 73.9" y="1187.5" style="font-size:18px;font-weight:bold;" fill="#222">1.5</text>
<line x1="87.5" y1="1148.5" x2="93.75" y2="1148.5" stroke="#1a1a1a" stroke-width="2.4"/>
<text x="53.5 65.95 73.9" y="1154.5" style="font-size:18px;font-weight:bold;" fill="#222">2.0</text>
<line x1="87.5" y1="1115.5" x2="93.75" y2="1115.5" stroke="#1a1a1a" stroke-width="2.4"/>
<text x="53.5 65.95 73.9" y="1121.5" style="font-size:18px;font-weight:bold;" fill="#222">2.5</text>
<line x1="87.5" y1="1082.5" x2="93.75" y2="1082.5" stroke="#1a1a1a" stroke-width="2.4"/>
<text x="53.5 65.95 73.9" y="1088.5" style="font-size:18px;font-weight:bold;" fill="#222">3.0</text>
<line x1="91" y1="1264" x2="93.75" y2="1264" stroke="#1a1a1a" stroke-width="2"/>
<line x1="91" y1="1231" x2="93.75" y2="1231" stroke="#1a1a1a" stroke-width="2"/>
<line x1="91" y1="1198" x2="93.75" y2="1198" stroke="#1a1a1a" stroke-width="2"/>
<line x1="91" y1="1165" x2="93.75" y2="1165" stroke="#1a1a1a" stroke-width="2"/>
<line x1="91" y1="1132" x2="93.75" y2="1132" stroke="#1a1a1a" stroke-width="2"/>
<line x1="91" y1="1099" x2="93.75" y2="1099" stroke="#1a1a1a" stroke-width="2"/>
<line x1="161.3" y1="1280.5" x2="161.3" y2="1286.5" stroke="#1a1a1a" stroke-width="2.2"/>
<line x1="296.2" y1="1280.5" x2="296.2" y2="1286.5" stroke="#1a1a1a" stroke-width="2.2"/>
<line x1="430.8" y1="1280.5" x2="430.8" y2="1286.5" stroke="#1a1a1a" stroke-width="2.2"/>
<line x1="565.3" y1="1280.5" x2="565.3" y2="1286.5" stroke="#1a1a1a" stroke-width="2.2"/>
<line x1="699.8" y1="1280.5" x2="699.8" y2="1286.5" stroke="#1a1a1a" stroke-width="2.2"/>
<line x1="94" y1="1280.5" x2="94" y2="1283.5" stroke="#1a1a1a" stroke-width="2"/>
<line x1="229" y1="1280.5" x2="229" y2="1283.5" stroke="#1a1a1a" stroke-width="2"/>
<line x1="363.5" y1="1280.5" x2="363.5" y2="1283.5" stroke="#1a1a1a" stroke-width="2"/>
<line x1="498" y1="1280.5" x2="498" y2="1283.5" stroke="#1a1a1a" stroke-width="2"/>
<line x1="632.5" y1="1280.5" x2="632.5" y2="1283.5" stroke="#1a1a1a" stroke-width="2"/>
<line x1="768" y1="1280.5" x2="768" y2="1283.5" stroke="#1a1a1a" stroke-width="2"/>
<text x="105" y="1089.5" textLength="56" lengthAdjust="spacingAndGlyphs" style="font-size:19.5px;font-weight:bold" fill="#222">GABA-T</text>
<rect x="127.7" y="1434.3" width="33.6" height="58.95" fill="#fff" stroke="#1a1a1a" stroke-width="2.6"/>
<rect x="161.3" y="1358.05" width="33.6" height="135.2" fill="#b3c4c3" stroke="#1a1a1a" stroke-width="2.6"/>
<rect x="262.6" y="1398.05" width="33.6" height="95.2" fill="#fff" stroke="#1a1a1a" stroke-width="2.6"/>
<rect x="296.2" y="1354.3" width="33.6" height="138.95" fill="#b3c4c3" stroke="#1a1a1a" stroke-width="2.6"/>
<rect x="397.2" y="1343.8" width="33.6" height="149.45" fill="#fff" stroke="#1a1a1a" stroke-width="2.6"/>
<rect x="430.8" y="1317.55" width="33.6" height="175.7" fill="#b3c4c3" stroke="#1a1a1a" stroke-width="2.6"/>
<rect x="531.7" y="1442.55" width="33.6" height="50.7" fill="#fff" stroke="#1a1a1a" stroke-width="2.6"/>
<rect x="565.3" y="1383.8" width="33.6" height="109.45" fill="#b3c4c3" stroke="#1a1a1a" stroke-width="2.6"/>
<rect x="666.2" y="1458.3" width="33.6" height="34.95" fill="#fff" stroke="#1a1a1a" stroke-width="2.6"/>
<rect x="699.8" y="1398.8" width="33.6" height="94.45" fill="#b3c4c3" stroke="#1a1a1a" stroke-width="2.6"/>
<line x1="144.25" y1="1420" x2="144.25" y2="1449.25" stroke="#2e3836" stroke-width="2.2"/>
<line x1="140.65" y1="1420" x2="147.85" y2="1420" stroke="#2e3836" stroke-width="2.2"/>
<line x1="140.65" y1="1449.25" x2="147.85" y2="1449.25" stroke="#2e3836" stroke-width="2.2"/>
<line x1="279.5" y1="1385" x2="279.5" y2="1410.75" stroke="#2e3836" stroke-width="2.2"/>
<line x1="275.9" y1="1385" x2="283.1" y2="1385" stroke="#2e3836" stroke-width="2.2"/>
<line x1="275.9" y1="1410.75" x2="283.1" y2="1410.75" stroke="#2e3836" stroke-width="2.2"/>
<line x1="413.25" y1="1329.5" x2="413.25" y2="1356.25" stroke="#2e3836" stroke-width="2.2"/>
<line x1="409.65" y1="1329.5" x2="416.85" y2="1329.5" stroke="#2e3836" stroke-width="2.2"/>
<line x1="409.65" y1="1356.25" x2="416.85" y2="1356.25" stroke="#2e3836" stroke-width="2.2"/>
<line x1="548.75" y1="1430" x2="548.75" y2="1452.5" stroke="#2e3836" stroke-width="2.2"/>
<line x1="545.15" y1="1430" x2="552.35" y2="1430" stroke="#2e3836" stroke-width="2.2"/>
<line x1="545.15" y1="1452.5" x2="552.35" y2="1452.5" stroke="#2e3836" stroke-width="2.2"/>
<line x1="683" y1="1441.75" x2="683" y2="1473.25" stroke="#2e3836" stroke-width="2.2"/>
<line x1="679.4" y1="1441.75" x2="686.6" y2="1441.75" stroke="#2e3836" stroke-width="2.2"/>
<line x1="679.4" y1="1473.25" x2="686.6" y2="1473.25" stroke="#2e3836" stroke-width="2.2"/>
<line x1="178.75" y1="1343.25" x2="178.75" y2="1373.25" stroke="#2e3836" stroke-width="2.2"/>
<line x1="175.15" y1="1343.25" x2="182.35" y2="1343.25" stroke="#2e3836" stroke-width="2.2"/>
<line x1="175.15" y1="1373.25" x2="182.35" y2="1373.25" stroke="#2e3836" stroke-width="2.2"/>
<line x1="312.5" y1="1340.5" x2="312.5" y2="1366.75" stroke="#2e3836" stroke-width="2.2"/>
<line x1="308.9" y1="1340.5" x2="316.1" y2="1340.5" stroke="#2e3836" stroke-width="2.2"/>
<line x1="308.9" y1="1366.75" x2="316.1" y2="1366.75" stroke="#2e3836" stroke-width="2.2"/>
<line x1="447" y1="1305" x2="447" y2="1327" stroke="#2e3836" stroke-width="2.2"/>
<line x1="443.4" y1="1305" x2="450.6" y2="1305" stroke="#2e3836" stroke-width="2.2"/>
<line x1="443.4" y1="1327" x2="450.6" y2="1327" stroke="#2e3836" stroke-width="2.2"/>
<line x1="581.25" y1="1367.5" x2="581.25" y2="1401.25" stroke="#2e3836" stroke-width="2.2"/>
<line x1="577.65" y1="1367.5" x2="584.85" y2="1367.5" stroke="#2e3836" stroke-width="2.2"/>
<line x1="577.65" y1="1401.25" x2="584.85" y2="1401.25" stroke="#2e3836" stroke-width="2.2"/>
<line x1="716.25" y1="1382.5" x2="716.25" y2="1415" stroke="#2e3836" stroke-width="2.2"/>
<line x1="712.65" y1="1382.5" x2="719.85" y2="1382.5" stroke="#2e3836" stroke-width="2.2"/>
<line x1="712.65" y1="1415" x2="719.85" y2="1415" stroke="#2e3836" stroke-width="2.2"/>
<text x="156.79" y="1412" text-anchor="middle" style="font-size:19px;font-weight:bold;" fill="#222" transform="scale(0.92,1)">b</text>
<text x="303.8" y="1376.25" text-anchor="middle" style="font-size:19px;font-weight:bold;" fill="#222" transform="scale(0.92,1)">b</text>
<text x="449.18" y="1321.25" text-anchor="middle" style="font-size:19px;font-weight:bold;" fill="#222" transform="scale(0.92,1)">b</text>
<text x="596.47" y="1418.75" text-anchor="middle" style="font-size:19px;font-weight:bold;" fill="#222" transform="scale(0.92,1)">b</text>
<text x="742.39" y="1429.5" text-anchor="middle" style="font-size:19px;font-weight:bold;" fill="#222" transform="scale(0.92,1)">b</text>
<text x="194.29" y="1333.25" text-anchor="middle" style="font-size:19px;font-weight:bold;" fill="#222" transform="scale(0.92,1)">a</text>
<text x="339.67" y="1331.75" text-anchor="middle" style="font-size:19px;font-weight:bold;" fill="#222" transform="scale(0.92,1)">a</text>
<text x="485.87" y="1296.25" text-anchor="middle" style="font-size:19px;font-weight:bold;" fill="#222" transform="scale(0.92,1)">a</text>
<text x="631.79" y="1358.75" text-anchor="middle" style="font-size:19px;font-weight:bold;" fill="#222" transform="scale(0.92,1)">a</text>
<text x="778.53" y="1373.75" text-anchor="middle" style="font-size:19px;font-weight:bold;" fill="#222" transform="scale(0.92,1)">a</text>
<line x1="93.75" y1="1280.5" x2="93.75" y2="1494.25" stroke="#111" stroke-width="2.8"/>
<line x1="92.75" y1="1493.25" x2="768.75" y2="1493.25" stroke="#333d3b" stroke-width="2.5"/>
<line x1="87.5" y1="1493.25" x2="93.75" y2="1493.25" stroke="#1a1a1a" stroke-width="2.4"/>
<text x="74" y="1499.25" style="font-size:18px;font-weight:bold;" fill="#222">0</text>
<line x1="87.5" y1="1446.19" x2="93.75" y2="1446.19" stroke="#1a1a1a" stroke-width="2.4"/>
<text x="74" y="1452.19" style="font-size:18px;font-weight:bold;" fill="#222">1</text>
<line x1="87.5" y1="1399.13" x2="93.75" y2="1399.13" stroke="#1a1a1a" stroke-width="2.4"/>
<text x="74" y="1405.13" style="font-size:18px;font-weight:bold;" fill="#222">2</text>
<line x1="87.5" y1="1352.07" x2="93.75" y2="1352.07" stroke="#1a1a1a" stroke-width="2.4"/>
<text x="74" y="1358.07" style="font-size:18px;font-weight:bold;" fill="#222">3</text>
<line x1="87.5" y1="1305.01" x2="93.75" y2="1305.01" stroke="#1a1a1a" stroke-width="2.4"/>
<text x="74" y="1311.01" style="font-size:18px;font-weight:bold;" fill="#222">4</text>
<line x1="91" y1="1469.72" x2="93.75" y2="1469.72" stroke="#1a1a1a" stroke-width="2"/>
<line x1="91" y1="1422.66" x2="93.75" y2="1422.66" stroke="#1a1a1a" stroke-width="2"/>
<line x1="91" y1="1375.6" x2="93.75" y2="1375.6" stroke="#1a1a1a" stroke-width="2"/>
<line x1="91" y1="1328.54" x2="93.75" y2="1328.54" stroke="#1a1a1a" stroke-width="2"/>
<line x1="91" y1="1281.48" x2="93.75" y2="1281.48" stroke="#1a1a1a" stroke-width="2"/>
<line x1="161.3" y1="1493.25" x2="161.3" y2="1499.25" stroke="#1a1a1a" stroke-width="2.2"/>
<line x1="296.2" y1="1493.25" x2="296.2" y2="1499.25" stroke="#1a1a1a" stroke-width="2.2"/>
<line x1="430.8" y1="1493.25" x2="430.8" y2="1499.25" stroke="#1a1a1a" stroke-width="2.2"/>
<line x1="565.3" y1="1493.25" x2="565.3" y2="1499.25" stroke="#1a1a1a" stroke-width="2.2"/>
<line x1="699.8" y1="1493.25" x2="699.8" y2="1499.25" stroke="#1a1a1a" stroke-width="2.2"/>
<line x1="94" y1="1493.25" x2="94" y2="1496.25" stroke="#1a1a1a" stroke-width="2"/>
<line x1="229" y1="1493.25" x2="229" y2="1496.25" stroke="#1a1a1a" stroke-width="2"/>
<line x1="363.5" y1="1493.25" x2="363.5" y2="1496.25" stroke="#1a1a1a" stroke-width="2"/>
<line x1="498" y1="1493.25" x2="498" y2="1496.25" stroke="#1a1a1a" stroke-width="2"/>
<line x1="632.5" y1="1493.25" x2="632.5" y2="1496.25" stroke="#1a1a1a" stroke-width="2"/>
<line x1="768" y1="1493.25" x2="768" y2="1496.25" stroke="#1a1a1a" stroke-width="2"/>
<text x="105" y="1305.75" textLength="47.5" lengthAdjust="spacingAndGlyphs" style="font-size:19.5px;font-weight:bold" fill="#222">SSADH</text>
<text transform="translate(155.94,1520.5) scale(0.960,1)" style="font-size:19px;font-weight:bold;" fill="#222">0</text>
<text transform="translate(291.19,1520.5) scale(0.960,1)" style="font-size:19px;font-weight:bold;" fill="#222">3</text>
<text transform="translate(425.44,1520.5) scale(0.960,1)" style="font-size:19px;font-weight:bold;" fill="#222">6</text>
<text transform="translate(560.44,1520.5) scale(0.960,1)" style="font-size:19px;font-weight:bold;" fill="#222">9</text>
<text transform="translate(690.69,1520.5) scale(0.960,1)" style="font-size:19px;font-weight:bold;" fill="#222">1</text>
<text transform="translate(700.19,1520.5) scale(0.960,1)" style="font-size:19px;font-weight:bold;" fill="#222">2</text>
<text class="r" transform="translate(338.09,1555) scale(0.840,1)" style="font-size:29.5px;" fill="#222">S</text>
<text class="r" transform="translate(352.44,1555) scale(0.934,1)" style="font-size:29.5px;" fill="#222">h</text>
<text class="r" transform="translate(495.94,1555) scale(0.934,1)" style="font-size:29.5px;" fill="#222">d</text>
<text class="r" x="367.13 383.93 397.46 426.98 441.33 454.86 467.58 483.56 508.72" y="1555" style="font-size:29.5px;" fill="#222">elflife()</text>
<g transform="translate(36.9,1307.9) rotate(-90)">
<text class="r" transform="translate(0.28,0) scale(0.694,1)" style="font-size:29.5px;" fill="#222">R</text>
<text class="r" transform="translate(85.6,0) scale(0.926,1)" style="font-size:29.5px;" fill="#222">v</text>
<text class="r" transform="translate(142.48,0) scale(0.926,1)" style="font-size:29.5px;" fill="#222">x</text>
<text class="r" transform="translate(156.7,0) scale(0.926,1)" style="font-size:29.5px;" fill="#222">p</text>
<text class="r" transform="translate(242.02,0) scale(0.926,1)" style="font-size:29.5px;" fill="#222">o</text>
<text class="r" transform="translate(256.24,0) scale(0.926,1)" style="font-size:29.5px;" fill="#222">n</text>
<text class="r" x="14.78 31.45 43.22 59.89 74.11 100.1 128.54 172.84 185.42 200.45 214.67 230.53" y="0" style="font-size:29.5px;" fill="#222">elatieeressi</text>
</g>
<rect x="642.4" y="858.3" width="113.5" height="44.3" fill="none" stroke="#1a1a1a" stroke-width="2.4"/>
<rect x="646.5" y="861.6" width="34.1" height="15.8" fill="#fff" stroke="#1a1a1a" stroke-width="2.4"/>
<rect x="646.5" y="879.6" width="34.1" height="16.8" fill="#b3c4c3" stroke="#1a1a1a" stroke-width="2.4"/>
<text class="r" transform="translate(689.17,875.5) scale(0.663,1)" style="font-size:19px;" fill="#222">C</text>
<text class="r" transform="translate(697.92,875.5) scale(0.884,1)" style="font-size:19px;" fill="#222">o</text>
<text class="r" transform="translate(706.67,875.5) scale(0.884,1)" style="font-size:19px;" fill="#222">n</text>
<text class="r" transform="translate(732.92,875.5) scale(0.884,1)" style="font-size:19px;" fill="#222">o</text>
<text class="r" x="716.99 725.21 743.24" y="875.5" style="font-size:19px;" fill="#222">trl</text>
<text class="r" transform="translate(689.17,895.5) scale(0.663,1)" style="font-size:19px;" fill="#222">C</text>
<text class="r" transform="translate(697.92,895.5) scale(0.996,1)" style="font-size:19px;" fill="#222">a</text>
<text class="r" transform="translate(706.67,895.5) scale(0.663,1)" style="font-size:19px;" fill="#222">C</text>
<text class="r" x="716.99" y="895.5" style="font-size:19px;" fill="#222">l</text>
<text x="724.5" y="898.8" style="font-size:13.5px" fill="#222">2</text>
<text x="-0.3" y="861.3" style="font-family:'Liberation Sans',sans-serif;font-weight:bold;font-size:30px" fill="#000" stroke="#000" stroke-width="0.5">C</text>
</svg>
</body></html>
